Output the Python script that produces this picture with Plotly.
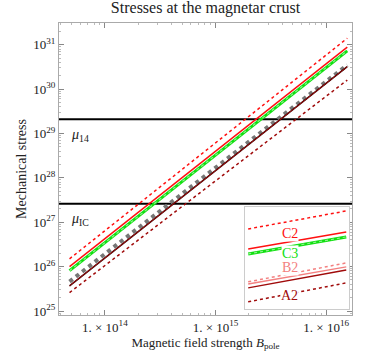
import plotly.graph_objects as go

# field strength at the two ends of each stress line (G)
B_ends = [4.8e13, 1.55e16]

# stress lines (erg/cm^3) read at the two ends
c2_upper = [1.5e26, 1.4e31]
c2 = [1.0e26, 8.8e30]
c3 = [8.1e25, 7.3e30]
b2_band = [4.6e25, 3.5e30]
a2 = [3.7e25, 3.2e30]
a2_lower = [2.6e25, 1.6e30]

# shear moduli
mu14 = 2.1e29
muIC = 2.6e27

xtick_vals = [1e14, 1e15, 1e16]
xtick_text = ["1. \u00d7 10<sup>14</sup>", "1. \u00d7 10<sup>15</sup>", "1. \u00d7 10<sup>16</sup>"]
ytick_vals = [1e25, 1e26, 1e27, 1e28, 1e29, 1e30, 1e31]
ytick_text = ["10<sup>%d</sup>" % e for e in range(25, 32)]

# legend inset: left / right heights of the sample lines
leg_x = [0.03, 0.97]
leg_c2_upper = [0.784, 0.961]
leg_c2 = [0.588, 0.755]
leg_c3 = [0.539, 0.706]
leg_b2_dot = [0.265, 0.451]
leg_b2 = [0.245, 0.412]
leg_a2 = [0.206, 0.382]
leg_a2_dot = [0.069, 0.255]
leg_labels = ["C2", "C3", "B2", "A2"]
leg_label_y = [0.735, 0.545, 0.41, 0.13]

RED = "#ff1010"
GREEN = "#10e010"
PINK = "#f38080"
DARK = "#a00a0a"
SERIF = "Liberation Serif"

fig = go.Figure()

def line(x, y, color, width, dash="solid", ax=""):
    fig.add_trace(go.Scatter(x=x, y=y, mode="lines", showlegend=False, hoverinfo="skip",
                             line=dict(color=color, width=width, dash=dash),
                             xaxis="x" + ax, yaxis="y" + ax))

# main plot
line([1e13, 1e17], [mu14, mu14], "black", 2)
line([1e13, 1e17], [muIC, muIC], "black", 2)
line(B_ends, c2_upper, RED, 1.5, "dot")
line(B_ends, c2, RED, 1.5)
line(B_ends, c3, GREEN, 3)
line(B_ends, c3, "#8cf08c", 1.2, "dot")
line(B_ends, b2_band, "#777777", 4, "dot")
line(B_ends, a2, "#300000", 1.6)
line(B_ends, a2, DARK, 1.0)
line(B_ends, a2_lower, DARK, 1.5, "dot")

# legend inset
line(leg_x, leg_c2_upper, RED, 1.5, "dot", "2")
line(leg_x, leg_c2, RED, 1.5, ax="2")
line(leg_x, leg_c3, GREEN, 3, ax="2")
line(leg_x, leg_c3, "#8cf08c", 1.2, "dot", "2")
line(leg_x, leg_b2_dot, PINK, 1.5, "dot", "2")
line(leg_x, leg_b2, PINK, 1.5, ax="2")
line(leg_x, leg_a2, DARK, 1.5, ax="2")
line(leg_x, leg_a2_dot, DARK, 1.5, "dot", "2")

for lab, yy, col in zip(leg_labels, leg_label_y, [RED, GREEN, PINK, DARK]):
    fig.add_annotation(x=0.43, y=yy, xref="x2", yref="y2", text=lab, showarrow=False,
                       font=dict(family=SERIF, size=14, color=col), bgcolor="white",
                       borderpad=0)

fig.add_annotation(x=0.035, y=29.2, xref="paper", yref="y", xanchor="left", yanchor="top",
                   text="<i>\u03bc</i><sub>14</sub>", showarrow=False,
                   font=dict(family=SERIF, size=14, color="#222"))
fig.add_annotation(x=0.035, y=27.3, xref="paper", yref="y", xanchor="left", yanchor="top",
                   text="<i>\u03bc</i><sub>IC</sub>", showarrow=False,
                   font=dict(family=SERIF, size=14, color="#222"))

frame = dict(showline=True, linecolor="#aaaaaa", linewidth=1, mirror="ticks",
             ticks="inside", tickcolor="#888888", ticklen=5, showgrid=False, zeroline=False,
             automargin=False, tickfont=dict(family=SERIF, size=13, color="#222"))

fig.update_layout(
    width=374, height=360,
    margin=dict(l=59, r=22, t=23, b=45),
    paper_bgcolor="white", plot_bgcolor="white",
    title=dict(text="Stresses at the magnetar crust", x=0.5, xref="paper", xanchor="center",
               y=0.995, yanchor="top", font=dict(family=SERIF, size=16, color="#222")),
    xaxis=dict(type="log", range=[13.586, 16.233], tickvals=xtick_vals, ticktext=xtick_text,
               title=dict(text="Magnetic field strength <i>B</i><sub>pole</sub>", standoff=3,
                          font=dict(family=SERIF, size=13, color="#222")),
               minor=dict(ticks="inside", ticklen=2, tickcolor="#bbbbbb", dtick="D1"),
               **frame),
    yaxis=dict(type="log", range=[24.91, 31.49], tickvals=ytick_vals, ticktext=ytick_text,
               title=dict(text="Mechanical stress", standoff=3,
                          font=dict(family=SERIF, size=14, color="#222")),
               minor=dict(ticks="inside", ticklen=2, tickcolor="#bbbbbb", dtick="D1"),
               **frame),
    xaxis2=dict(domain=[0.635, 0.991], range=[0, 1], anchor="y2", showticklabels=False,
                showgrid=False, zeroline=False, showline=True, mirror=True,
                linecolor="#cccccc", ticks=""),
    yaxis2=dict(domain=[0.021, 0.37], range=[0, 1], anchor="x2", showticklabels=False,
                showgrid=False, zeroline=False, showline=True, mirror=True,
                linecolor="#cccccc", ticks=""),
)

fig.write_html("out.html", config={"displayModeBar": False},
               post_script="document.body.style.margin = '0';")
